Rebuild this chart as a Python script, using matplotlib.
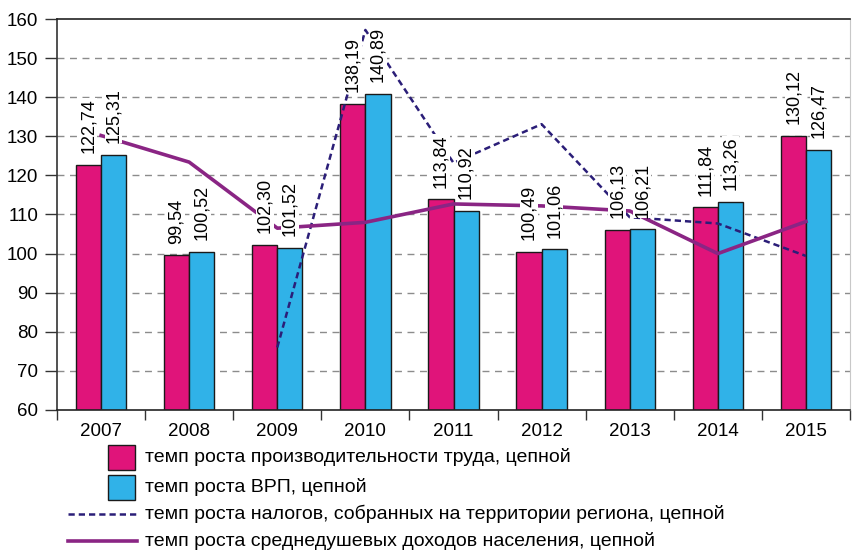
import numpy as np
import matplotlib.pyplot as plt
from matplotlib.patches import Rectangle
from matplotlib.lines import Line2D

plt.rcParams['font.family'] = ['Liberation Sans', 'DejaVu Sans']

years = ['2007', '2008', '2009', '2010', '2011', '2012', '2013', '2014', '2015']
labor = [122.74, 99.54, 102.30, 138.19, 113.84, 100.49, 106.13, 111.84, 130.12]
grp = [125.31, 100.52, 101.52, 140.89, 110.92, 101.06, 106.21, 113.26, 126.47]
taxes = [np.nan, np.nan, 76.0, 157.2, 123.2, 133.1, 109.3, 107.7, 99.4]
income = [130.2, 123.4, 106.5, 108.0, 112.7, 112.2, 110.9, 100.0, 108.2]

names = ['темп роста производительности труда, цепной',
         'темп роста ВРП, цепной',
         'темп роста налогов, собранных на территории региона, цепной',
         'темп роста среднедушевых доходов населения, цепной']

c_labor = '#E0147A'
c_grp = '#30B2E8'
c_tax = '#2B1E78'
c_inc = '#8A2584'

W, H = 852, 552
fig = plt.figure(figsize=(W / 100, H / 100), dpi=100)
ax = fig.add_axes([57 / W, 1 - 410 / H, (850 - 57) / W, (410 - 19) / H])

x = np.arange(len(years))
w = 0.285
off = 0.1425

ax.bar(x - off, [v - 60 for v in labor], w, bottom=60, color=c_labor,
       edgecolor='#1a1a1a', linewidth=1, zorder=2)
ax.bar(x + off, [v - 60 for v in grp], w, bottom=60, color=c_grp,
       edgecolor='#1a1a1a', linewidth=1, zorder=2)

ax.plot(x, taxes, color=c_tax, lw=1.8, ls=(0, (2.5, 1.6)), zorder=3)
ax.plot(x, income, color=c_inc, lw=2.6, zorder=3)

def fmt(v):
    return f'{v:.2f}'.replace('.', ',')

for xs, vals in ((x - off, labor), (x + off, grp)):
    for xi, v in zip(xs, vals):
        ax.annotate(fmt(v), (xi, v), xytext=(0, 8.5), textcoords='offset points',
                    rotation=90, ha='center', va='bottom', fontsize=13,
                    bbox=dict(facecolor='white', edgecolor='none', pad=0.3),
                    zorder=4)

ax.set_xlim(-0.5, len(years) - 0.5)
ax.set_ylim(60, 160)
ax.set_yticks(range(60, 161, 10))
ax.tick_params(axis='y', labelsize=13.5, length=8.5, width=1, color='#333333', pad=5)
ax.set_xticks(x)
ax.set_xticklabels(years)
ax.tick_params(axis='x', which='major', length=0, labelsize=13.5, pad=9)
ax.set_xticks(np.arange(-0.5, len(years), 1), minor=True)
ax.tick_params(axis='x', which='minor', length=7, width=1, color='#333333')

for yv in range(70, 160, 10):
    ax.axhline(yv, color='#8c8c8c', lw=1, ls=(0, (5, 4)), zorder=1)

ax.spines['left'].set_color('#333333')
ax.spines['left'].set_linewidth(1.2)
ax.spines['bottom'].set_color('#222222')
ax.spines['bottom'].set_linewidth(1.2)
ax.spines['top'].set_color('#222222')
ax.spines['top'].set_linewidth(1.2)
ax.spines['right'].set_color('#c8c8c8')

# legend drawn in pixel coordinates of the figure
ys = [457, 487, 514, 541]
fig.add_artist(Rectangle((108 / W, 1 - 470 / H), 27 / W, 25 / H, facecolor=c_labor,
                         edgecolor='#1a1a1a', lw=1, transform=fig.transFigure))
fig.add_artist(Rectangle((108 / W, 1 - 500 / H), 27 / W, 25 / H, facecolor=c_grp,
                         edgecolor='#1a1a1a', lw=1, transform=fig.transFigure))
fig.add_artist(Line2D([68 / W, 137 / W], [1 - ys[2] / H] * 2, color=c_tax, lw=1.8,
                      ls=(0, (2.5, 1.6)), transform=fig.transFigure))
fig.add_artist(Line2D([68 / W, 137 / W], [1 - ys[3] / H] * 2, color=c_inc, lw=2.6,
                      transform=fig.transFigure))
for yy, name in zip(ys, names):
    fig.text(145 / W, 1 - yy / H, name, fontsize=14, va='center', ha='left')

fig.savefig('out.png', dpi=100)
